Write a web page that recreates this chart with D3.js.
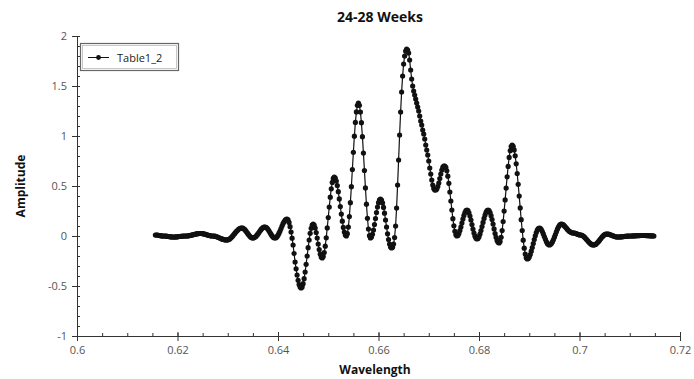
<!DOCTYPE html>
<html>
<head>
<meta charset="utf-8">
<script src="https://cdn.jsdelivr.net/npm/d3@7"></script>
<style>
  body { margin: 0; background: #fff; }
  svg { display: block; font-family: 'Open Sans', 'Noto Sans', sans-serif; }
</style>
</head>
<body>
<div id="chart"></div>
<script>
// sampling grid of the spectrum
const wlStart = 0.6156;
const wlStep = 0.0002;

// amplitude, one value per sample
const amplitude = [
  0.010, 0.010, 0.009, 0.007, 0.005, 0.003, 0.001, 0.000, 0.000, 0.000,
  -0.001, -0.002, -0.003, -0.005, -0.007, -0.008, -0.009, -0.010, -0.010, -0.010,
  -0.009, -0.009, -0.008, -0.006, -0.005, -0.004, -0.003, -0.001, -0.001, 0.000,
  0.000, 0.000, 0.001, 0.002, 0.004, 0.006, 0.009, 0.011, 0.014, 0.016,
  0.019, 0.021, 0.023, 0.024, 0.025, 0.025, 0.025, 0.023, 0.021, 0.019,
  0.016, 0.013, 0.009, 0.006, 0.004, 0.002, 0.000, 0.000, -0.001, -0.002,
  -0.004, -0.008, -0.011, -0.015, -0.020, -0.025, -0.029, -0.032, -0.036, -0.038,
  -0.039, -0.040, -0.039, -0.035, -0.029, -0.020, -0.010, 0.001, 0.014, 0.026,
  0.039, 0.050, 0.060, 0.069, 0.075, 0.079, 0.080, 0.078, 0.072, 0.063,
  0.051, 0.037, 0.023, 0.009, -0.003, -0.012, -0.018, -0.020, -0.018, -0.013,
  -0.004, 0.008, 0.021, 0.035, 0.049, 0.063, 0.074, 0.083, 0.088, 0.090,
  0.087, 0.080, 0.067, 0.052, 0.035, 0.018, 0.003, -0.010, -0.017, -0.020,
  -0.017, -0.007, 0.008, 0.028, 0.050, 0.075, 0.100, 0.123, 0.142, 0.157,
  0.167, 0.170, 0.161, 0.136, 0.093, 0.040, -0.022, -0.090, -0.175, -0.260,
  -0.328, -0.390, -0.443, -0.486, -0.511, -0.520, -0.509, -0.477, -0.427, -0.360,
  -0.283, -0.200, -0.117, -0.040, 0.027, 0.077, 0.109, 0.120, 0.110, 0.080,
  0.035, -0.020, -0.080, -0.135, -0.180, -0.210, -0.220, -0.206, -0.166, -0.102,
  -0.018, 0.081, 0.185, 0.289, 0.388, 0.472, 0.536, 0.576, 0.590, 0.580,
  0.550, 0.504, 0.443, 0.371, 0.295, 0.219, 0.148, 0.086, 0.040, 0.010,
  0.000, 0.023, 0.089, 0.194, 0.333, 0.493, 0.665, 0.837, 0.998, 1.136,
  1.241, 1.307, 1.330, 1.307, 1.240, 1.133, 0.993, 0.829, 0.655, 0.481,
  0.318, 0.177, 0.070, 0.003, -0.020, -0.011, 0.017, 0.060, 0.115, 0.175,
  0.235, 0.290, 0.333, 0.361, 0.370, 0.360, 0.331, 0.286, 0.228, 0.160,
  0.090, 0.022, -0.036, -0.081, -0.110, -0.120, -0.112, -0.080, -0.015, 0.100,
  0.280, 0.510, 0.760, 1.010, 1.240, 1.440, 1.600, 1.720, 1.800, 1.850,
  1.870, 1.860, 1.830, 1.760, 1.660, 1.570, 1.500, 1.450, 1.410, 1.370,
  1.330, 1.290, 1.250, 1.200, 1.150, 1.110, 1.060, 1.020, 0.970, 0.910,
  0.860, 0.810, 0.750, 0.680, 0.620, 0.560, 0.510, 0.475, 0.460, 0.460,
  0.470, 0.495, 0.530, 0.575, 0.620, 0.660, 0.688, 0.700, 0.698, 0.686,
  0.652, 0.598, 0.527, 0.440, 0.350, 0.260, 0.173, 0.102, 0.047, 0.012,
  0.000, 0.006, 0.025, 0.054, 0.090, 0.130, 0.170, 0.206, 0.235, 0.254,
  0.260, 0.253, 0.232, 0.200, 0.160, 0.115, 0.070, 0.030, -0.002, -0.023,
  -0.030, -0.024, -0.007, 0.020, 0.054, 0.094, 0.136, 0.176, 0.210, 0.237,
  0.254, 0.260, 0.253, 0.234, 0.203, 0.165, 0.119, 0.071, 0.025, -0.013,
  -0.044, -0.063, -0.070, -0.055, -0.013, 0.054, 0.144, 0.249, 0.361, 0.479,
  0.592, 0.696, 0.786, 0.853, 0.895, 0.910, 0.897, 0.861, 0.802, 0.722,
  0.625, 0.517, 0.399, 0.281, 0.163, 0.055, -0.042, -0.122, -0.181, -0.217,
  -0.230, -0.225, -0.209, -0.185, -0.152, -0.115, -0.075, -0.035, 0.002, 0.035,
  0.059, 0.075, 0.080, 0.076, 0.064, 0.045, 0.021, -0.005, -0.031, -0.055,
  -0.074, -0.086, -0.090, -0.086, -0.076, -0.059, -0.038, -0.012, 0.015, 0.042,
  0.068, 0.089, 0.106, 0.116, 0.120, 0.117, 0.111, 0.101, 0.090, 0.078,
  0.066, 0.055, 0.046, 0.039, 0.034, 0.031, 0.030, 0.029, 0.026, 0.022,
  0.018, 0.014, 0.011, 0.010, 0.008, 0.004, -0.003, -0.012, -0.023, -0.034,
  -0.046, -0.058, -0.068, -0.077, -0.084, -0.089, -0.090, -0.088, -0.084, -0.076,
  -0.066, -0.054, -0.042, -0.028, -0.016, -0.004, 0.006, 0.014, 0.018, 0.020,
  0.019, 0.018, 0.015, 0.011, 0.007, 0.003, -0.001, -0.005, -0.008, -0.009,
  -0.010, -0.010, -0.009, -0.009, -0.008, -0.007, -0.006, -0.004, -0.003, -0.002,
  -0.001, -0.001, 0.000, 0.000, 0.000, 0.001, 0.001, 0.002, 0.002, 0.003,
  0.003, 0.004, 0.004, 0.005, 0.005, 0.005, 0.005, 0.005, 0.004, 0.004,
  0.003, 0.003, 0.002, 0.002, 0.001, 0.001, 0.000
];

const xTicks = [0.6, 0.62, 0.64, 0.66, 0.68, 0.7, 0.72];
const yTicks = [-1, -0.5, 0, 0.5, 1, 1.5, 2];
const seriesName = 'Table1_2';

const width = 694;
const height = 379;

let data = amplitude.map((v, i) => ({ w: wlStart + i * wlStep, v: v }));

let svg = d3.select('#chart')
  .append('svg')
  .attr('width', width)
  .attr('height', height);

let x = d3.scaleLinear().domain([0.6, 0.72]).range([77, 680]);
let y = d3.scaleLinear().domain([-1, 2]).range([336, 36]);

let fmt = d => String(+d.toFixed(2));

// minor ticks first, under the axis lines
svg.append('g')
  .attr('transform', 'translate(0,336)')
  .call(d3.axisTop(x).tickValues(x.ticks(24)).tickSize(3).tickFormat(''))
  .call(g => g.select('.domain').remove())
  .selectAll('line').attr('stroke', '#333');

svg.append('g')
  .attr('transform', 'translate(77,0)')
  .call(d3.axisRight(y).tickValues(y.ticks(30)).tickSize(3).tickFormat(''))
  .call(g => g.select('.domain').remove())
  .selectAll('line').attr('stroke', '#333');

// major axes
let xAxis = svg.append('g')
  .attr('transform', 'translate(0,336)')
  .call(d3.axisBottom(x).tickValues(xTicks).tickSize(5).tickSizeOuter(0).tickPadding(5).tickFormat(fmt));

let yAxis = svg.append('g')
  .attr('transform', 'translate(77,0)')
  .call(d3.axisLeft(y).tickValues(yTicks).tickSize(5).tickSizeOuter(0).tickPadding(5).tickFormat(fmt));

[xAxis, yAxis].forEach(a => {
  a.select('.domain').attr('stroke', '#333');
  a.selectAll('.tick line').attr('stroke', '#333');
  a.selectAll('.tick text')
    .attr('fill', '#555')
    .style('font-size', '11px')
    .style('font-family', "'Open Sans', sans-serif");
});

// x major ticks also poke inside a little
svg.append('g')
  .attr('transform', 'translate(0,336)')
  .call(d3.axisTop(x).tickValues(xTicks).tickSize(4).tickFormat(''))
  .call(g => g.select('.domain').remove())
  .selectAll('line').attr('stroke', '#333');

// series
let line = d3.line()
  .x(d => x(d.w))
  .y(d => y(d.v));

svg.append('path')
  .datum(data)
  .attr('fill', 'none')
  .attr('stroke', '#111')
  .attr('stroke-width', 1.2)
  .attr('d', line);

svg.append('g')
  .selectAll('circle')
  .data(data)
  .enter()
  .append('circle')
  .attr('cx', d => x(d.w))
  .attr('cy', d => y(d.v))
  .attr('r', 2.6)
  .attr('fill', '#111');

// titles
svg.append('text')
  .attr('x', 380)
  .attr('y', 22)
  .attr('text-anchor', 'middle')
  .style('font-size', '14px')
  .style('font-weight', 'bold')
  .attr('fill', '#111')
  .text('24-28 Weeks');

svg.append('text')
  .attr('x', 375)
  .attr('y', 374)
  .attr('text-anchor', 'middle')
  .style('font-size', '12px')
  .style('font-weight', 'bold')
  .attr('fill', '#111')
  .text('Wavelength');

svg.append('text')
  .attr('transform', 'translate(25,186) rotate(-90)')
  .attr('text-anchor', 'middle')
  .style('font-size', '12px')
  .style('font-weight', 'bold')
  .attr('fill', '#111')
  .text('Amplitude');

// legend
let legend = svg.append('g');
legend.append('rect')
  .attr('x', 80.5).attr('y', 43.5)
  .attr('width', 98).attr('height', 27)
  .attr('fill', '#fff')
  .attr('stroke', '#666')
  .attr('stroke-width', 1.2);
legend.append('rect')
  .attr('x', 82.5).attr('y', 45.5)
  .attr('width', 94).attr('height', 23)
  .attr('fill', 'none')
  .attr('stroke', '#bbb')
  .attr('stroke-width', 0.8);
legend.append('line')
  .attr('x1', 88).attr('x2', 109)
  .attr('y1', 57.5).attr('y2', 57.5)
  .attr('stroke', '#111');
legend.append('circle')
  .attr('cx', 98.5).attr('cy', 57.5)
  .attr('r', 2.4)
  .attr('fill', '#111');
legend.append('text')
  .attr('x', 117)
  .attr('y', 61.5)
  .style('font-size', '11px')
  .attr('fill', '#222')
  .text(seriesName);
</script>
</body>
</html>
